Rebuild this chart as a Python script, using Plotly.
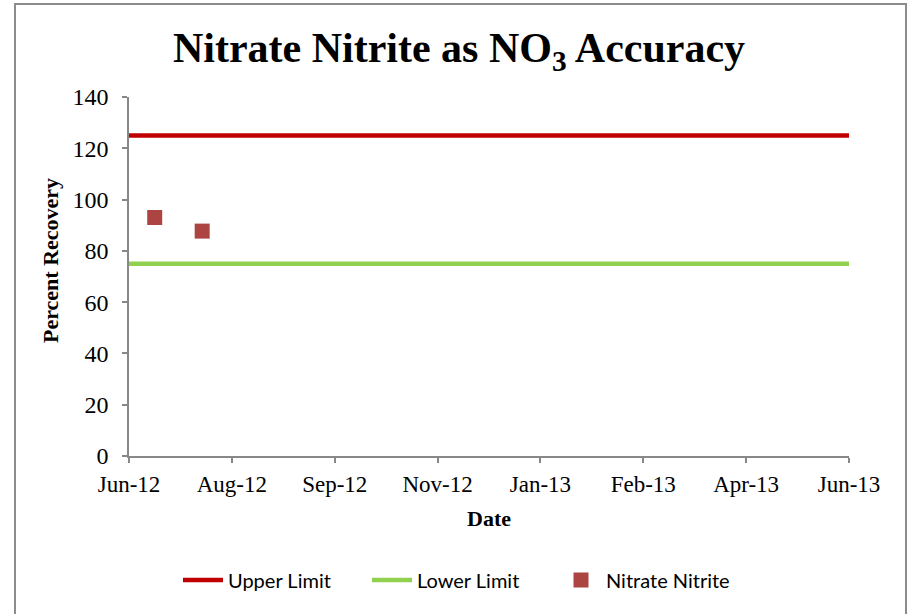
import plotly.graph_objects as go

# Data
limit_dates = ["2012-06-11", "2013-06-10"]
upper_limit = [125, 125]
lower_limit = [75, 75]
sample_dates = ["2012-06-24", "2012-07-18"]
nitrate_nitrite = [93, 87.7]

W, H = 909, 614
L, R, T, B = 129, 60, 97, 158
pw, ph = W - L - R, H - T - B

fig = go.Figure()
fig.add_trace(go.Scatter(x=limit_dates, y=upper_limit, mode="lines", name="Upper Limit",
                         line=dict(color="#C00000", width=4.5)))
fig.add_trace(go.Scatter(x=limit_dates, y=lower_limit, mode="lines", name="Lower Limit",
                         line=dict(color="#92D050", width=4.5)))
fig.add_trace(go.Scatter(x=sample_dates, y=nitrate_nitrite, mode="markers", name="Nitrate Nitrite",
                         marker=dict(symbol="square", size=15, color="#AC4542")))

serif = "Liberation Serif"
axis_col = "#888888"

fig.update_layout(
    width=W, height=H,
    margin=dict(l=L, r=R, t=T, b=B),
    paper_bgcolor="white", plot_bgcolor="white",
    title=dict(text="<b>Nitrate Nitrite as NO<sub>3</sub> Accuracy</b>",
               x=459 / W, xanchor="center", y=1 - 47 / H, yanchor="middle",
               font=dict(family=serif, size=42, color="black")),
    xaxis=dict(type="date", range=[limit_dates[0], limit_dates[1]],
               tick0=limit_dates[0], dtick=52 * 86400000, tickformat="%b-%y",
               showgrid=False, zeroline=False, showline=True, linecolor=axis_col, linewidth=1.5,
               ticks="outside", ticklen=5, tickcolor=axis_col, tickwidth=1.5,
               tickfont=dict(family=serif, size=23, color="black"), ticklabelstandoff=2,
               title=dict(text="<b>Date</b>", font=dict(family=serif, size=22, color="black"), standoff=14)),
    yaxis=dict(range=[0, 140], dtick=20,
               showgrid=False, zeroline=False, showline=True, linecolor=axis_col, linewidth=1.5,
               ticks="outside", ticklen=5, tickcolor=axis_col, tickwidth=1.5,
               tickfont=dict(family=serif, size=24, color="black"), ticklabelstandoff=9),
    legend=dict(orientation="h", x=(178 - L) / pw, xanchor="left",
                y=(T + ph - 580) / ph, yanchor="middle",
                font=dict(family="Lato", size=20, color="black"),
                itemwidth=40, entrywidth=134, entrywidthmode="pixels", tracegroupgap=0),
    showlegend=True,
)

fig.add_annotation(text="<b>Percent Recovery</b>", textangle=-90,
                   xref="paper", yref="paper", x=(50 - L) / pw, y=(T + ph - 261) / ph,
                   xanchor="center", yanchor="middle", showarrow=False,
                   font=dict(family=serif, size=22, color="black"))

fig.add_shape(type="rect", xref="paper", yref="paper",
              x0=(15 - L) / pw, x1=(906 - L) / pw, y0=(T + ph - 630) / ph, y1=(T + ph - 4) / ph,
              line=dict(color="#8C8C8C", width=2), fillcolor="rgba(0,0,0,0)", layer="below")

fig.write_html("out.html", config={"displayModeBar": False},
               post_script="document.body.style.margin='0';document.body.style.overflow='hidden';")
